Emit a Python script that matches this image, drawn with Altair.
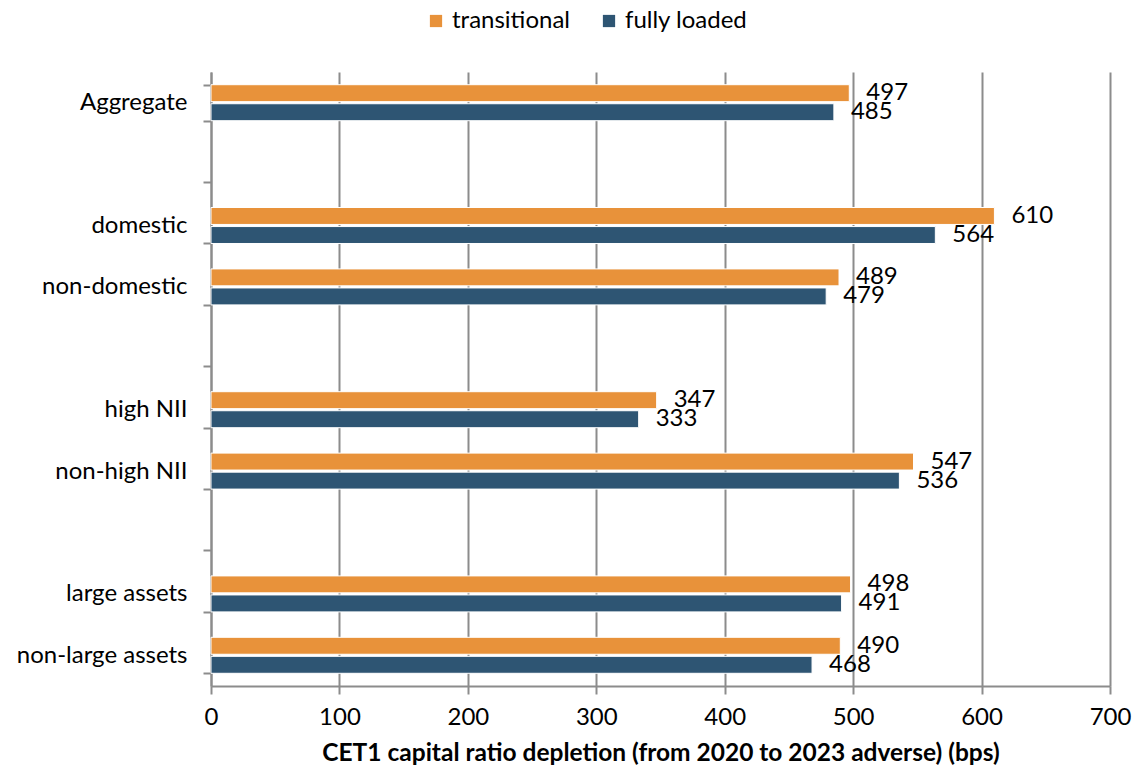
import altair as alt
import pandas as pd

rows = ["Aggregate", " ", "domestic", "non-domestic", "  ", "high NII", "non-high NII", "   ",
        "large assets", "non-large assets"]
categories = ["Aggregate", "domestic", "non-domestic", "high NII", "non-high NII",
              "large assets", "non-large assets"]
transitional = [497, 610, 489, 347, 547, 498, 490]
fully_loaded = [485, 564, 479, 333, 536, 491, 468]
series = ["transitional", "fully loaded"]
colors = ["#E8923A", "#2E5573"]
x_ticks = [0, 100, 200, 300, 400, 500, 600, 700]

records = []
for c, t, f in zip(categories, transitional, fully_loaded):
    records.append({"row": c, "series": series[0], "value": t})
    records.append({"row": c, "series": series[1], "value": f})
df = pd.DataFrame(records)

FONT = "Lato"
GRID = "#8C8C8C"
FS = 24

y_enc = alt.Y("row:N", scale=alt.Scale(domain=rows, paddingInner=0.414, paddingOuter=0.207),
              axis=alt.Axis(title=None, labelFont=FONT, labelFontSize=FS, labelColor="black",
                            domainColor=GRID, domainWidth=2, tickColor=GRID, tickWidth=2,
                            tickSize=8, tickBand="extent", labelPadding=16, grid=False))
x_enc = alt.X("value:Q", scale=alt.Scale(domain=[0, 700], nice=False),
              axis=alt.Axis(values=x_ticks, grid=True, gridColor=GRID, gridWidth=2,
                            domainColor=GRID, domainWidth=2, tickColor=GRID, tickWidth=2,
                            tickSize=8, labelFont=FONT, labelFontSize=FS, labelColor="black",
                            labelPadding=11, labelFlush=False,
                            title="CET1 capital ratio depletion (from 2020 to 2023 adverse) (bps)",
                            titleFont=FONT, titleFontSize=24.5, titleFontWeight="bold",
                            titleColor="black", titlePadding=12))
yoff = alt.YOffset("series:N", sort=series,
                   scale=alt.Scale(domain=series, paddingInner=0.11, paddingOuter=0))
color = alt.Color("series:N", sort=series, scale=alt.Scale(domain=series, range=colors),
                  legend=alt.Legend(title=None, orient="none", legendX=213, legendY=-63,
                                    direction="horizontal", symbolType="square", symbolSize=150,
                                    symbolStrokeWidth=0, labelFont=FONT, labelFontSize=FS,
                                    labelColor="black", labelOffset=4, columnPadding=27,
                                    padding=0))

bars = alt.Chart(df).mark_bar(stroke="white", strokeWidth=1).encode(
    x=x_enc, y=y_enc, yOffset=yoff, color=color
)
labels = alt.Chart(df).mark_text(align="left", baseline="middle", dx=17, font=FONT,
                                 fontSize=FS, color="black").encode(
    x="value:Q", y=alt.Y("row:N", scale=alt.Scale(domain=rows)), yOffset=yoff,
    text="value:Q"
)

chart = alt.layer(bars, labels).properties(
    width=899, height=614,
    autosize=alt.AutoSizeParams(type="none"),
    padding={"left": 203, "top": 64, "right": 24, "bottom": 80},
).configure_view(strokeWidth=0)

chart.save("out.html", embed_options={"renderer": "svg", "actions": False})
